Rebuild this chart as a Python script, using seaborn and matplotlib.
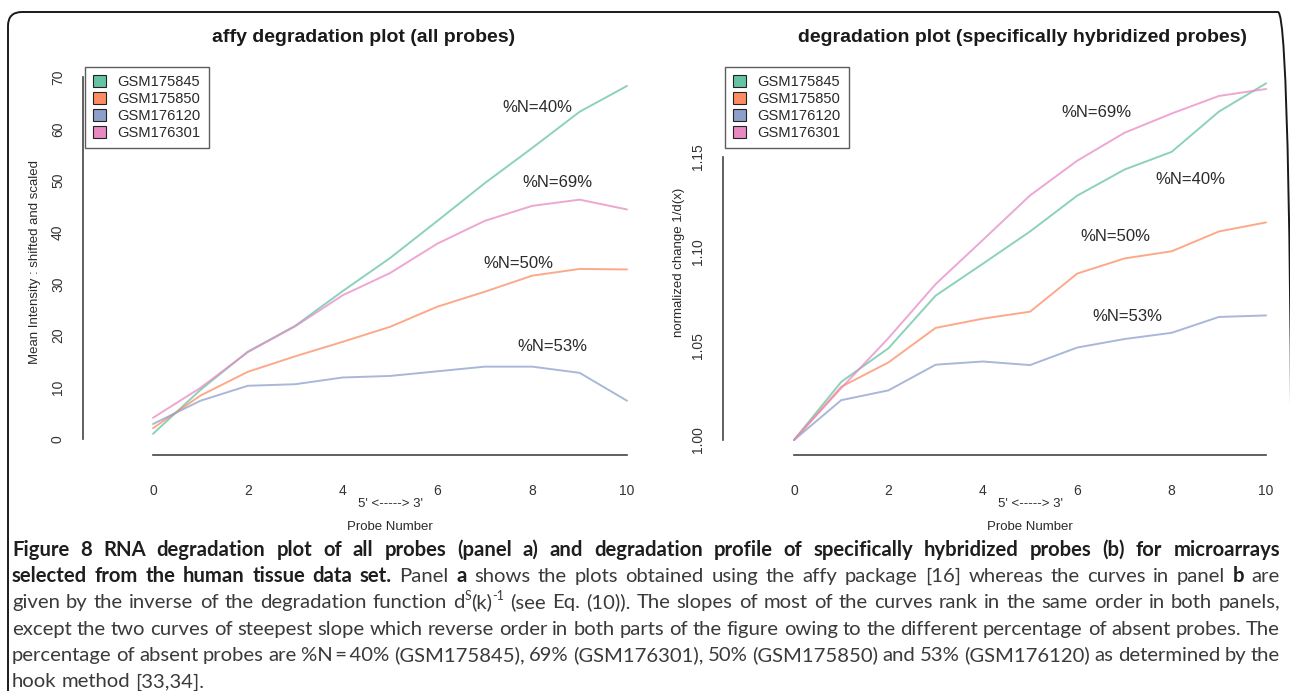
import matplotlib
matplotlib.use("Agg")
import matplotlib.pyplot as plt
from matplotlib.patches import Patch, FancyBboxPatch
from matplotlib.transforms import IdentityTransform
import pandas as pd
import seaborn as sns

# ---------------------------------------------------------------- data
probe = list(range(11))
samples = ["GSM175845", "GSM175850", "GSM176120", "GSM176301"]
sample_colors = ["#66C2A5", "#FC8D62", "#8DA0CB", "#E78AC3"]

# panel a: affy mean intensity (shifted and scaled)
gsm175845_all = [1.0, 9.5, 16.9, 21.9, 28.6, 35.0, 42.2, 49.5, 56.3, 63.3, 68.3]
gsm175850_all = [2.1, 8.4, 13.0, 16.0, 18.8, 21.7, 25.6, 28.5, 31.6, 32.9, 32.8]
gsm176120_all = [2.9, 7.4, 10.3, 10.6, 11.9, 12.2, 13.1, 14.0, 14.0, 12.8, 7.4]
gsm176301_all = [4.1, 9.9, 16.8, 21.8, 27.8, 32.1, 37.8, 42.2, 45.1, 46.3, 44.4]

# panel b: normalized change 1/d(x) of specifically hybridized probes
gsm175845_spec = [1.0, 1.0308, 1.0486, 1.0765, 1.0934, 1.1105, 1.1295, 1.1433, 1.1527, 1.1740, 1.1890]
gsm175850_spec = [1.0, 1.0282, 1.0411, 1.0594, 1.0643, 1.0680, 1.0882, 1.0962, 1.1000, 1.1105, 1.1153]
gsm176120_spec = [1.0, 1.0211, 1.0263, 1.0399, 1.0416, 1.0397, 1.0490, 1.0535, 1.0568, 1.0652, 1.0660]
gsm176301_spec = [1.0, 1.0275, 1.0540, 1.0826, 1.1060, 1.1296, 1.1480, 1.1628, 1.1730, 1.1823, 1.1860]

# percentage of absent probes, written next to the curves
absent_all = [("%N=40%", 8.10, 64.2), ("%N=69%", 8.54, 49.6),
              ("%N=50%", 7.70, 34.0), ("%N=53%", 8.42, 17.8)]
absent_spec = [("%N=69%", 6.40, 1.1733), ("%N=40%", 8.40, 1.1378),
               ("%N=50%", 6.80, 1.1076), ("%N=53%", 7.06, 1.0652)]

x_ticks = [0, 2, 4, 6, 8, 10]
y_ticks_all = [0, 10, 20, 30, 40, 50, 60, 70]
y_ticks_spec = [1.00, 1.05, 1.10, 1.15]
y_ticklabels_spec = ["1.00", "1.05", "1.10", "1.15"]


def long_form(series):
    rows = []
    for name, values in zip(samples, series):
        for p, v in zip(probe, values):
            rows.append({"probe": p, "value": v, "sample": name})
    return pd.DataFrame(rows)


df_all = long_form([gsm175845_all, gsm175850_all, gsm176120_all, gsm176301_all])
df_spec = long_form([gsm175845_spec, gsm175850_spec, gsm176120_spec, gsm176301_spec])

# ---------------------------------------------------------------- style
sns.set_style("white")
plt.rcParams["font.family"] = ["Liberation Sans", "DejaVu Sans"]

W, H = 1290, 691
fig = plt.figure(figsize=(W / 100, H / 100), dpi=100)


def fx(px):
    return px / W


def fy(py):
    return 1 - py / H


palette = dict(zip(samples, sample_colors))
axis_color = "#444444"
text_color = "#2a2a2a"


def style_axes(ax, xlim, ylim, yticks, ylabels, ybounds):
    ax.set_xlim(*xlim)
    ax.set_ylim(*ylim)
    for side in ("top", "right"):
        ax.spines[side].set_visible(False)
    for side in ("left", "bottom"):
        ax.spines[side].set_color(axis_color)
        ax.spines[side].set_linewidth(1.2)
    ax.spines["bottom"].set_bounds(0, 10)
    ax.spines["left"].set_bounds(*ybounds)
    ax.set_xticks(x_ticks)
    ax.set_xticklabels([str(t) for t in x_ticks])
    ax.set_yticks(yticks)
    ax.set_yticklabels(ylabels)
    ax.tick_params(axis="both", direction="out", length=7, width=1.1,
                   color=axis_color, labelcolor="#333333", labelsize=10)
    ax.tick_params(axis="x", pad=14)
    ax.tick_params(axis="y", pad=6, labelrotation=90)
    for lab in ax.get_yticklabels():
        lab.set_va("center")
    ax.set_xlabel("")
    ax.set_ylabel("")
    ax.set_facecolor("none")


def draw_panel(ax, df, labels):
    sns.lineplot(data=df, x="probe", y="value", hue="sample", palette=palette,
                 ax=ax, legend=False, errorbar=None, linewidth=1.4, alpha=0.75)
    for txt, x, y in labels:
        ax.text(x, y, txt, ha="center", va="center", fontsize=12, color=text_color)
    handles = [Patch(facecolor=c, edgecolor="#222222", linewidth=0.8, label=s)
               for s, c in zip(samples, sample_colors)]
    return handles


# panel a
ax_a = fig.add_axes([fx(83), fy(455), (646 - 83) / W, (455 - 72) / H])
h = draw_panel(ax_a, df_all, absent_all)
style_axes(ax_a, (-1.477, 10.40), (-3.09, 70.99), y_ticks_all,
           [str(t) for t in y_ticks_all], (0, 70))

# panel b
ax_b = fig.add_axes([fx(723), fy(455), (1285 - 723) / W, (455 - 72) / H])
draw_panel(ax_b, df_spec, absent_spec)
style_axes(ax_b, (-1.504, 10.40), (0.99205, 1.195), y_ticks_spec,
           y_ticklabels_spec, (1.00, 1.15))

for ax, left_px in ((ax_a, 85), (ax_b, 725)):
    leg = ax.legend(handles=h, loc="upper left",
                    bbox_to_anchor=(fx(left_px), fy(67)),
                    bbox_transform=fig.transFigure, borderaxespad=0,
                    fontsize=10.6, frameon=True, fancybox=False,
                    handlelength=0.85, handleheight=0.85, handletextpad=0.8,
                    labelspacing=0.2, borderpad=0.55)
    leg.get_frame().set_edgecolor("#333333")
    leg.get_frame().set_linewidth(1.0)
    for t in leg.get_texts():
        t.set_color(text_color)

# titles and axis labels
fig.text(fx(364), fy(37), "affy degradation plot (all probes)", ha="center",
         va="center", fontsize=14, weight="bold", color="#1a1a1a")
fig.text(fx(1022), fy(37), "degradation plot (specifically hybridized probes)",
         ha="center", va="center", fontsize=14, weight="bold", color="#1a1a1a")

for cx in (390, 1030):
    fig.text(fx(cx), fy(504), "5' <-----> 3'", ha="center", va="center",
             fontsize=9.5, color=text_color)
    fig.text(fx(cx), fy(527), "Probe Number", ha="center", va="center",
             fontsize=9.5, color=text_color)

fig.text(fx(35), fy(262), "Mean Intensity : shifted and scaled", rotation=90,
         ha="center", va="center", fontsize=9.5, color=text_color)
fig.text(fx(679), fy(262), "normalized change 1/d(x)", rotation=90,
         ha="center", va="center", fontsize=9.5, color=text_color)

# rounded frame around the figure
frame = FancyBboxPatch((8, -40), 1284, H - 12 + 40,
                       boxstyle="round,pad=0,rounding_size=14",
                       transform=IdentityTransform(), fill=False,
                       edgecolor="#1a1a1a", linewidth=1.4)
fig.add_artist(frame)

# ---------------------------------------------------------------- caption
caption_lines = [
    [("Figure 8 RNA degradation plot of all probes (panel a) and degradation "
      "profile of specifically hybridized probes (b) for microarrays", "b")],
    [("selected from the human tissue data set.", "b"), (" Panel ", "r"), ("a", "b"),
     (" shows the plots obtained using the affy package [16] whereas the curves in panel ", "r"),
     ("b", "b"), (" are", "r")],
    [("given by the inverse of the degradation function d", "r"), ("S", "s"),
     ("(k)", "r"), ("-1", "s"),
     (" (see Eq. (10)). The slopes of most of the curves rank in the same order in both panels,", "r")],
    [("except the two curves of steepest slope which reverse order in both parts "
      "of the figure owing to the different percentage of absent probes. The", "r")],
    [("percentage of absent probes are %N\u2009=\u200940% (GSM175845), 69% (GSM176301), "
      "50% (GSM175850) and 53% (GSM176120) as determined by the", "r")],
    [("hook method [33,34].", "r")],
]

cap_family = ["Lato", "DejaVu Sans"]
renderer = fig.canvas.get_renderer()


def seg_props(style, size):
    if style == "b":
        return dict(fontsize=size, weight="bold", color="#1e1e1e")
    if style == "s":
        return dict(fontsize=size * 0.62, weight="normal", color="#3a3a3a")
    return dict(fontsize=size, weight="normal", color="#3a3a3a")


def text_width(s, style, size):
    t = fig.text(0, 0, s, family=cap_family, **seg_props(style, size))
    w = t.get_window_extent(renderer).width
    t.remove()
    return w


def space_width(style, size):
    return text_width("a a", style, size) - text_width("aa", style, size)


def split_words(runs):
    words = [[]]
    for text, style in runs:
        parts = text.split(" ")
        for i, p in enumerate(parts):
            if i > 0:
                words.append([])
            if p:
                words[-1].append((p, style))
    return [w for w in words if w]


def natural_width(runs, size):
    words = split_words(runs)
    total = sum(sum(text_width(p, s, size) for p, s in w) for w in words)
    return total + (len(words) - 1) * space_width("r", size) * 0.85


x_left, x_right = 12, 1280
base_size = 14.0
cap_size = min(base_size * (x_right - x_left) / natural_width(r, base_size)
               for r in caption_lines[:-1])

space_w = space_width("r", cap_size)
first_center, line_step = 549, 26.3
for i, runs in enumerate(caption_lines):
    words = split_words(runs)
    widths = [sum(text_width(p, s, cap_size) for p, s in w) for w in words]
    justify = i < len(caption_lines) - 1 and len(words) > 1
    gap = ((x_right - x_left) - sum(widths)) / (len(words) - 1) if justify else space_w
    baseline = first_center + line_step * i + 0.34 * cap_size * 100 / 72
    x = x_left
    for w, ww in zip(words, widths):
        cx = x
        for p, s in w:
            dy = -0.42 * cap_size * 100 / 72 if s == "s" else 0
            fig.text(fx(cx), fy(baseline + dy), p, family=cap_family, va="baseline",
                     ha="left", **seg_props(s, cap_size))
            cx += text_width(p, s, cap_size)
        x += ww + gap

fig.savefig("out.png", dpi=100)
